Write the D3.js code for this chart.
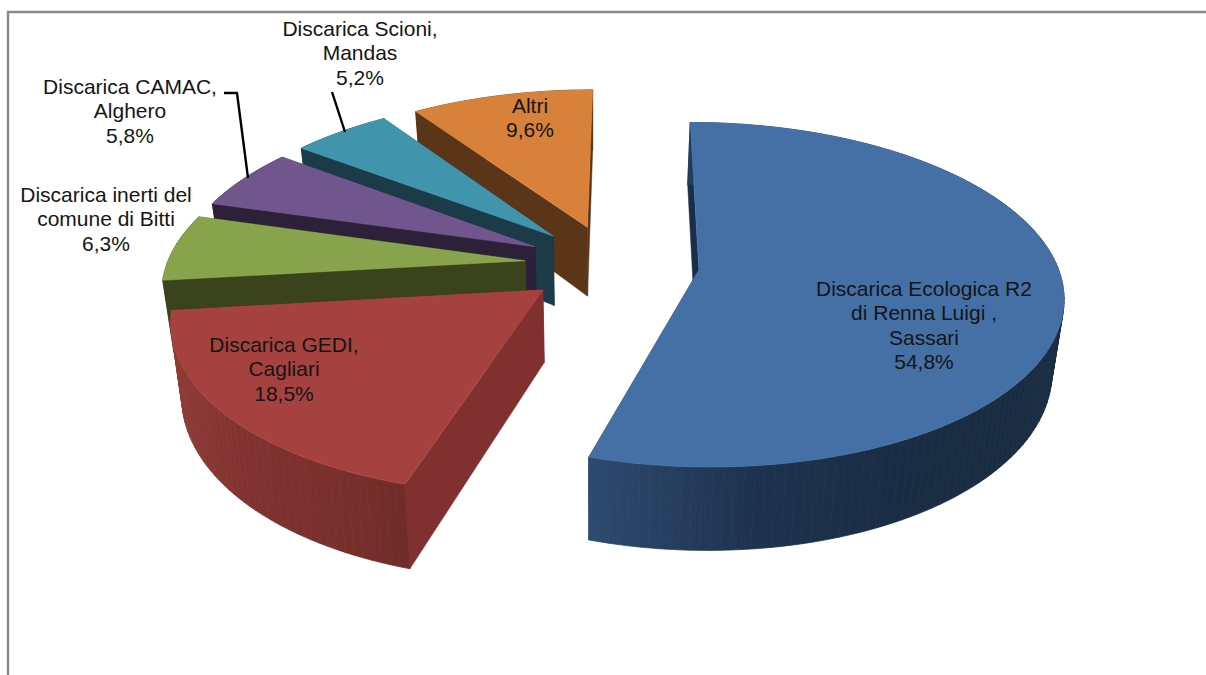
<!DOCTYPE html>
<html><head><meta charset="utf-8">
<style>html,body{margin:0;padding:0;background:#fff;overflow:hidden}svg{display:block}text{font-family:"Liberation Sans",Arial,sans-serif;font-size:21px;fill:#151515}</style>
<script src="https://cdn.jsdelivr.net/npm/d3@7/dist/d3.min.js"></script>
</head><body>
<svg id="c" width="1206" height="675"></svg>
<script>
const categories = ["Discarica Ecologica R2 di Renna Luigi , Sassari","Discarica GEDI, Cagliari","Discarica inerti del comune di Bitti","Discarica CAMAC, Alghero","Discarica Scioni, Mandas","Altri"];
const values = [54.8,18.5,6.3,5.8,5.2,9.6];
const valueLabels = ["54,8%","18,5%","6,3%","5,8%","5,2%","9,6%"];
const labelLines = [["Discarica Ecologica R2","di Renna Luigi ,","Sassari"],["Discarica GEDI,","Cagliari"],["Discarica inerti del","comune di Bitti"],["Discarica CAMAC,","Alghero"],["Discarica Scioni,","Mandas"],["Altri"]];
const topColors = ["#4470a5","#a5423f","#87a44d","#71568d","#4095ad","#d7813b"];
const cutColors = ["#1a2e48","#80312f","#3b431c","#2c2138","#1a3b47","#5a3517"];
const wallStops = [["#2e4a70","#1e3350","#1a2c43","#1a2c42"],["#8f3b38","#80322f","#7a302d","#702c29"],["#3b431c","#3b431c"],["#2c2138","#2c2138"],["#1a3b47","#1a3b47"],["#5a3517","#5a3517"]];

// layout of the projected pie
const R=369, RX=358, E=87.5, CX=612, CY=264, RY=167, K=0.1437, PX=630, H=71, VX=593, VC=0.026;
const svg=d3.select("#c");
const defs=svg.append("defs");
const pieGen=d3.pie().sort(null).value(d=>d).startAngle(0).endAngle(2*Math.PI);
const arcs=pieGen(values);
const scaleY=d3.scaleLinear().domain([0,1]).range([0,RY]);

function proj(wx,v,low){
  const s=1/(1-K*v);
  let x=PX+(wx-PX)*s, y=CY+scaleY(v)*s;
  if(low){ y+=H*s; x+=(VX-x)*VC; }
  return [x,y];
}
function corner(a,theta,r){
  const mid=(a.startAngle+a.endAngle)/2;
  const wx=CX+E*Math.sin(mid)+r*(RX/R)*Math.sin(theta);
  const v=(-E*Math.cos(mid)-r*Math.cos(theta))/R;
  return {wx,v};
}
const line=d3.line();
function arcPts(a,low){
  const n=Math.max(8,Math.round((a.endAngle-a.startAngle)*40));
  return d3.range(n+1).map(i=>{
    const t=a.startAngle+(a.endAngle-a.startAngle)*i/n;
    const c=corner(a,t,R); return proj(c.wx,c.v,low);
  });
}
function P(a,t,r,low){const c=corner(a,t,r);return proj(c.wx,c.v,low);}

const order=[5,4,3,2,1,0];
order.forEach(i=>{
  const a=arcs[i], g=svg.append("g");
  const stops=wallStops[i];
  [a.startAngle,a.endAngle].forEach(t=>{
    const q=[P(a,0,0,false),P(a,t,R,false),P(a,t,R,true),P(a,0,0,true)];
    g.append("path").attr("d",line(q)+"Z").attr("fill",cutColors[i]).attr("stroke",cutColors[i]).attr("stroke-width",.5);
  });
  const up=arcPts(a,false), lo=arcPts(a,true);
  const ext=d3.extent(up.filter(p=>p[1]>CY-20),p=>p[0]);
  const id="w"+i;
  const lg=defs.append("linearGradient").attr("id",id).attr("gradientUnits","userSpaceOnUse")
    .attr("x1",ext[0]).attr("x2",ext[1]).attr("y1",0).attr("y2",0);
  stops.forEach((c,j)=>lg.append("stop").attr("offset",j/(stops.length-1)).attr("stop-color",c));
  d3.range(up.length-1).forEach(j=>{
    const q=[up[j],up[j+1],lo[j+1],lo[j]];
    g.append("path").attr("d",line(q)+"Z").attr("fill","url(#"+id+")").attr("stroke","url(#"+id+")").attr("stroke-width",.8);
  });
  const top=[P(a,0,0,false)].concat(up);
  g.append("path").attr("d",line(top)+"Z").attr("fill",topColors[i]).attr("stroke",d3.color(topColors[i]).brighter(.5)).attr("stroke-width",.6).attr("stroke-opacity",.7);
});

svg.append("path").attr("d","M8,675V12H1206").attr("fill","none").attr("stroke","#8a8a8a").attr("stroke-width",2.4);

const leaders=[[[224,93],[237,93],[248,178]],[[332,92],[345,132]]];
leaders.forEach(l=>svg.append("path").attr("d",line(l)).attr("fill","none").attr("stroke","#000").attr("stroke-width",2.4));

const anchors=[[924,296],[284,352],[106,202],[130,94],[360,36],[530,113]];
const LH=24.3;
labelLines.forEach((ls,i)=>{
  const t=svg.append("text").attr("text-anchor","middle");
  ls.concat([valueLabels[i]]).forEach((s,j)=>t.append("tspan").attr("x",anchors[i][0]).attr("y",anchors[i][1]+j*LH).text(s));
});
</script>
</body></html>
